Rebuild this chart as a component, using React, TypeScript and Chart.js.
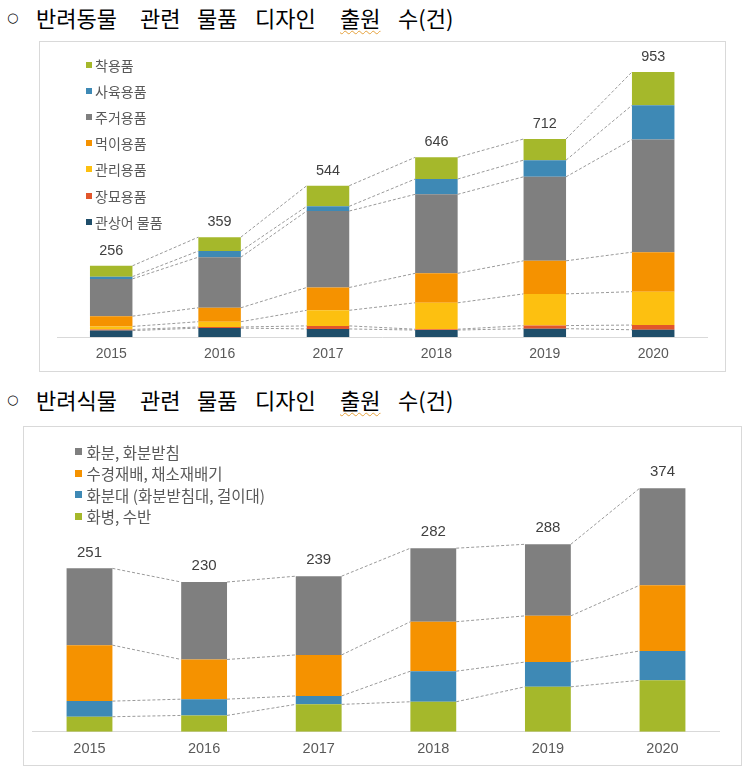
import React, { useEffect, useRef } from 'react';
import { Chart, registerables } from 'chart.js';
Chart.register(...registerables);

// ---------- data ----------
const years = ['2015', '2016', '2017', '2018', '2019', '2020'];

// 반려동물 (stack order bottom -> top)
const petNames = ['관상어 물품', '장묘용품', '관리용품', '먹이용품', '주거용품', '사육용품', '착용품'];
const petAquarium = [23, 32, 29, 25, 30, 26];
const petFuneral = [4, 4, 11, 3, 11, 17];
const petCare = [11, 19, 56, 95, 114, 120];
const petFood = [37, 50, 82, 106, 119, 142];
const petHousing = [134, 182, 275, 284, 302, 405];
const petBreeding = [8, 22, 17, 55, 60, 123];
const petWear = [39, 50, 74, 78, 76, 120];
const petTotals = [256, 359, 544, 646, 712, 953];
const petColors = ['#1f4e6a', '#e2562b', '#fdc010', '#f59200', '#7f7f7f', '#3e89b5', '#a5b82b'];

// 반려식물 (stack order bottom -> top)
const plantNames = ['화병, 수반', '화분대 (화분받침대, 걸이대)', '수경재배, 채소재배기', '화분, 화분받침'];
const plantVase = [23, 25, 42, 46, 69, 79];
const plantStand = [24, 25, 13, 47, 38, 45];
const plantHydro = [86, 61, 63, 76, 71, 101];
const plantPot = [118, 119, 121, 113, 110, 149];
const plantTotals = [251, 230, 239, 282, 288, 374];
const plantColors = ['#a5b82b', '#3e89b5', '#f59200', '#7f7f7f'];

const petTitleWords = ['반려동물', '관련', '물품', '디자인', '출원', '수(건)'];
const plantTitleWords = ['반려식물', '관련', '물품', '디자인', '출원', '수(건)'];

const FONT = '"Liberation Sans", "Noto Sans CJK KR", sans-serif';
const KFONT = '"Noto Sans CJK KR", "Liberation Sans", sans-serif';

// ---------- plugins ----------
const seriesLinesPlugin = {
  id: 'seriesLines',
  beforeDatasetsDraw(chart: any) {
    const ctx = chart.ctx;
    ctx.save();
    ctx.strokeStyle = '#9a9a9a';
    ctx.lineWidth = 1;
    ctx.setLineDash([3, 2]);
    chart.data.datasets.forEach((_ds: any, di: number) => {
      const meta = chart.getDatasetMeta(di);
      for (let j = 0; j < meta.data.length - 1; j++) {
        const a = meta.data[j].getProps(['x', 'y', 'width'], true);
        const b = meta.data[j + 1].getProps(['x', 'y', 'width'], true);
        ctx.beginPath();
        ctx.moveTo(a.x + a.width / 2, a.y);
        ctx.lineTo(b.x - b.width / 2, b.y);
        ctx.stroke();
      }
    });
    ctx.restore();
  },
};

const totalsPlugin = {
  id: 'totals',
  afterDatasetsDraw(chart: any, _args: any, opts: any) {
    if (!opts || !opts.values) return;
    const ctx = chart.ctx;
    const last = chart.data.datasets.length - 1;
    const meta = chart.getDatasetMeta(last);
    ctx.save();
    ctx.font = `${opts.size}px ${FONT}`;
    ctx.fillStyle = '#404040';
    ctx.textAlign = 'center';
    ctx.textBaseline = 'middle';
    meta.data.forEach((el: any, j: number) => {
      const p = el.getProps(['x', 'y'], true);
      ctx.fillText(String(opts.values[j]), p.x, p.y - opts.offset);
    });
    ctx.restore();
  },
};

// ---------- components ----------
type BarProps = {
  series: number[][];
  names: string[];
  colors: string[];
  totals: number[];
  max: number;
  width: number;
  height: number;
  left: number;
  top: number;
  padding: { left: number; right: number; top: number; bottom: number };
  barPct: number;
  tickSize: number;
  tickPad: number;
  totalSize: number;
  totalOffset: number;
};

function StackedBar(p: BarProps) {
  const ref = useRef<HTMLCanvasElement>(null);
  useEffect(() => {
    if (!ref.current) return;
    const chart = new Chart(ref.current, {
      type: 'bar',
      data: {
        labels: years,
        datasets: p.series.map((d, i) => ({
          label: p.names[i],
          data: d,
          backgroundColor: p.colors[i],
          borderWidth: 0,
          barPercentage: p.barPct,
          categoryPercentage: 1,
        })),
      },
      options: {
        responsive: false,
        animation: false,
        devicePixelRatio: 1,
        layout: { padding: p.padding },
        plugins: {
          legend: { display: false },
          tooltip: { enabled: false },
          totals: { values: p.totals, size: p.totalSize, offset: p.totalOffset },
        } as any,
        scales: {
          x: {
            stacked: true,
            grid: { display: false, drawTicks: false },
            border: { display: true, color: '#d9d9d9', width: 1 },
            ticks: { color: '#595959', font: { family: FONT, size: p.tickSize }, padding: p.tickPad },
          },
          y: {
            stacked: true,
            display: false,
            min: 0,
            max: p.max,
          },
        },
      },
      plugins: [seriesLinesPlugin, totalsPlugin],
    });
    return () => chart.destroy();
  }, []);
  return (
    <canvas
      ref={ref}
      width={p.width}
      height={p.height}
      style={{ position: 'absolute', left: p.left, top: p.top, width: p.width, height: p.height }}
    />
  );
}

function Legend({ items, left, textLeft, top, step, size, marker }: {
  items: { name: string; color: string }[];
  left: number; textLeft: number; top: number; step: number; size: number; marker: number;
}) {
  return (
    <>
      {items.map((it, i) => {
        const cy = top + i * step;
        return (
          <React.Fragment key={it.name}>
            <div style={{ position: 'absolute', left, top: cy - marker / 2, width: marker, height: marker, background: it.color }} />
            <div style={{ position: 'absolute', left: textLeft, top: cy - 11, height: 22, lineHeight: '22px', fontFamily: KFONT, fontSize: size, color: '#595959', whiteSpace: 'pre' }}>
              {it.name}
            </div>
          </React.Fragment>
        );
      })}
    </>
  );
}

const titleX = [36, 140, 197, 255, 340, 398];

function Heading({ top, words }: { top: number; words: string[] }) {
  return (
    <>
      <div style={{ position: 'absolute', left: 7, top: top + 1, height: 26, lineHeight: '26px', fontSize: 13, fontFamily: '"DejaVu Sans", sans-serif', color: '#000' }}>○</div>
      {words.map((w, i) => (
        <div key={i} style={{ position: 'absolute', left: titleX[i], top, height: 26, lineHeight: '26px', fontFamily: KFONT, fontSize: 22, color: '#000', whiteSpace: 'pre' }}>
          {i === 4 ? (
            <span style={{ textDecorationLine: 'underline', textDecorationStyle: 'wavy', textDecorationColor: '#e6a23c', textDecorationThickness: 1, textUnderlineOffset: 3 }}>{w}</span>
          ) : w}
        </div>
      ))}
    </>
  );
}

export default function App() {
  const petSeries = [petAquarium, petFuneral, petCare, petFood, petHousing, petBreeding, petWear];
  const plantSeries = [plantVase, plantStand, plantHydro, plantPot];
  const petLegend = petNames.map((n, i) => ({ name: n, color: petColors[i] })).reverse();
  const plantLegend = plantNames.map((n, i) => ({ name: n, color: plantColors[i] })).reverse();
  return (
    <div style={{ position: 'absolute', left: 0, top: 0, width: 751, height: 777, background: '#fff', overflow: 'hidden' }}>
      <Heading top={4} words={petTitleWords} />
      <div style={{ position: 'absolute', left: 39, top: 41, width: 685, height: 329, border: '1px solid #d9d9d9' }} />
      <StackedBar
        series={petSeries}
        names={petNames}
        colors={petColors}
        totals={petTotals}
        max={1000}
        left={40}
        top={42}
        width={685}
        height={334}
        padding={{ left: 17, right: 17.6, top: 16.9, bottom: 4.2 }}
        barPct={0.392}
        tickSize={14}
        tickPad={9}
        totalSize={14.4}
        totalOffset={15}
      />
      <Legend items={petLegend} left={85.5} textLeft={95} top={64.5} step={26.2} size={14} marker={6} />

      <Heading top={386} words={plantTitleWords} />
      <div style={{ position: 'absolute', left: 23, top: 426, width: 717, height: 338, border: '1px solid #d9d9d9' }} />
      <StackedBar
        series={plantSeries}
        names={plantNames}
        colors={plantColors}
        totals={plantTotals}
        max={400}
        left={24}
        top={427}
        width={717}
        height={340}
        padding={{ left: 8.2, right: 21.2, top: 44.4, bottom: 1.1 }}
        barPct={0.4}
        tickSize={14.5}
        tickPad={8.4}
        totalSize={15}
        totalOffset={16}
      />
      <Legend items={plantLegend} left={75} textLeft={86.5} top={451.5} step={21.5} size={15.5} marker={7} />
    </div>
  );
}
